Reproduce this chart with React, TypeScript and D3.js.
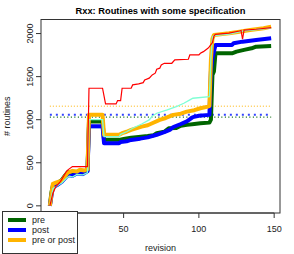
import React from 'react';
import * as d3 from 'd3';

// [revision, # routines]
const pre: [number, number][] = [
  [1, 0], [2, 150], [3, 235], [6, 262], [9, 300], [11, 350], [13, 392], [15, 372], [17, 375], [19, 392],
  [22, 385], [24, 400], [26, 412], [27, 978], [36, 978], [37, 766], [47, 766], [50, 775], [55, 790],
  [60, 800], [66, 810], [70, 820], [72, 843], [77, 860], [80, 901], [85, 905], [88, 930], [92, 940],
  [97, 950], [101, 959], [107, 966], [108, 1000], [109, 1520], [110, 1560], [111, 1771], [122, 1771],
  [125, 1790], [130, 1810], [135, 1829], [138, 1848], [148, 1856]
];

const post: [number, number][] = [
  [1, 0], [3, 217], [6, 244], [9, 282], [12, 340], [14, 360], [16, 348], [19, 379], [23, 371], [25, 398],
  [26, 400], [27, 925], [36, 925], [37, 727], [47, 727], [48, 740], [52, 750], [55, 765], [61, 780],
  [66, 795], [72, 825], [77, 855], [81, 885], [83, 915], [88, 950], [92, 980], [96, 1030], [100, 1045],
  [107, 1056], [108, 1560], [109, 1717], [111, 1868], [122, 1868], [123, 1887], [129, 1906],
  [138, 1926], [148, 1945]
];

const preOrPost: [number, number][] = [
  [1, 0], [3, 255], [5, 270], [9, 293], [11, 340], [13, 386], [16, 406], [19, 398], [21, 418], [24, 410],
  [26, 425], [27, 1056], [36, 1056], [37, 824], [47, 824], [49, 843], [52, 860], [55, 882], [62, 920],
  [66, 935], [69, 959], [74, 998], [78, 1020], [83, 1056], [88, 1070], [92, 1094], [97, 1110],
  [101, 1133], [106, 1152], [107, 1160], [108, 1700], [109, 1940], [110, 1984], [120, 2003],
  [127, 2022], [134, 2042], [143, 2061], [148, 2080]
];

const redSeries: [number, number][] = [
  [1, 0], [3, 147], [5, 224], [8, 282], [12, 398], [13, 418], [16, 456], [26, 456], [27, 1365],
  [36, 1365], [38, 1183], [45, 1183], [46, 1222], [48, 1222], [49, 1365], [55, 1365], [56, 1404],
  [60, 1415], [63, 1430], [64, 1462], [67, 1482], [69, 1520], [71, 1540], [72, 1586], [74, 1598],
  [75, 1636], [77, 1655], [82, 1655], [84, 1694], [93, 1702], [94, 1752], [100, 1752], [101, 1771],
  [103, 1790], [106, 1829], [107, 1848], [109, 1895], [110, 1972], [111, 1990], [120, 2005],
  [127, 2030], [128, 2035], [129, 1934], [130, 2040], [138, 2050], [148, 2068]
];

const aquaSeries: [number, number][] = [
  [1, 0], [3, 200], [6, 235], [9, 265], [12, 320], [14, 345], [16, 335], [19, 365], [23, 360], [26, 385],
  [27, 1000], [36, 1000], [37, 804], [47, 804], [48, 830], [52, 860], [56, 901], [62, 950], [67, 998],
  [69, 1040], [72, 1075], [79, 1114], [85, 1152], [90, 1191], [94, 1230], [96, 1249], [107, 1268],
  [108, 1720], [109, 1960], [110, 1975], [120, 1995], [130, 2030], [140, 2050], [148, 2065]
];

const skySeries: [number, number][] = [
  [1, 0], [3, 190], [6, 225], [9, 262], [12, 320], [14, 340], [16, 330], [19, 358], [23, 352], [26, 378],
  [27, 905], [36, 905], [37, 740], [47, 740], [55, 770], [61, 780], [72, 825], [81, 885], [92, 980],
  [96, 1030], [107, 1056], [108, 1540], [109, 1700], [111, 1860], [122, 1865], [129, 1900],
  [148, 1940]
];

// horizontal reference levels
const refLevels = [
  { value: 1157, color: '#FFB400', width: 1, dash: '1,2' },
  { value: 1056, color: '#3344FF', width: 2, dash: '2,4' },
  { value: 1029, color: '#006400', width: 1.2, dash: '1,2.5' }
];

const legendItems = [
  { label: 'pre', color: '#006400' },
  { label: 'post', color: '#0000FF' },
  { label: 'pre or post', color: '#FFB400' }
];

const W = 294;
const H = 254;
const margin = { top: 19.5, right: 14, bottom: 41, left: 41 };
const font = 'Liberation Sans, Arial, Helvetica, sans-serif';

export default function App() {
  const all = [pre, post, preOrPost, redSeries, aquaSeries, skySeries].flat();
  const [x0, x1] = d3.extent(all, d => d[0]) as [number, number];
  const [y0, y1] = d3.extent(all, d => d[1]) as [number, number];
  const xPad = (x1 - x0) * 0.04;
  const yPad = (y1 - y0) * 0.04;

  const x = d3.scaleLinear().domain([x0 - xPad, x1 + xPad]).range([margin.left, W - margin.right]);
  const y = d3.scaleLinear().domain([y0 - yPad, y1 + yPad]).range([H - margin.bottom, margin.top]);

  const line = d3.line<[number, number]>().x(d => x(d[0])).y(d => y(d[1]));

  const xTicks = [0, 50, 100, 150];
  const yTicks = y.ticks(5).filter(t => t >= 0 && t <= 2000);
  const bottom = H - margin.bottom;
  const cx = (margin.left + W - margin.right) / 2;
  const cy = (margin.top + bottom) / 2;

  return (
    <svg width={W} height={H} style={{ position: 'absolute', left: 0, top: 0, background: '#fff' }}
      fontFamily={font}>
      <text x={cx} y={13.5} textAnchor="middle" fontSize={9.3} fontWeight="bold">
        Rxx: Routines with some specification
      </text>

      {/* reference levels */}
      {refLevels.map(r => (
        <line key={r.value} x1={x(x0)} x2={x(x1)} y1={y(r.value)} y2={y(r.value)}
          stroke={r.color} strokeWidth={r.width} strokeDasharray={r.dash} />
      ))}

      <path d={line(skySeries) || ''} fill="none" stroke="#87CEFA" strokeWidth={1.3} />
      <path d={line(pre) || ''} fill="none" stroke="#006400" strokeWidth={4} strokeLinejoin="round" />
      <path d={line(post) || ''} fill="none" stroke="#0000FF" strokeWidth={4} strokeLinejoin="round" />
      <path d={line(preOrPost) || ''} fill="none" stroke="#FFB400" strokeWidth={4} strokeLinejoin="round" />
      <path d={line(aquaSeries) || ''} fill="none" stroke="#7FFFD4" strokeWidth={1.3} />
      <path d={line(redSeries) || ''} fill="none" stroke="#FF0000" strokeWidth={1.2} />

      {/* box */}
      <rect x={margin.left} y={margin.top} width={W - margin.left - margin.right}
        height={bottom - margin.top} fill="none" stroke="#333" strokeWidth={1} />

      {/* y axis */}
      {yTicks.map(t => (
        <g key={t}>
          <line x1={margin.left} x2={margin.left - 5} y1={y(t)} y2={y(t)} stroke="#333" />
          <text transform={`translate(32.5,${y(t)}) rotate(-90)`} textAnchor="middle" fontSize={9}
            fill="#222">{t}</text>
        </g>
      ))}
      <text transform={`translate(10,${cy}) rotate(-90)`} textAnchor="middle" fontSize={9} fill="#222">
        # routines
      </text>

      {/* x axis (the 0 label sits under the legend) */}
      <line x1={x(0)} x2={x(150)} y1={bottom} y2={bottom} stroke="#333" />
      {xTicks.map(t => (
        <g key={t}>
          <line x1={x(t)} x2={x(t)} y1={bottom} y2={bottom + 5} stroke="#333" />
          {t > 0 && <text x={x(t)} y={231.5} textAnchor="middle" fontSize={9} fill="#222">{t}</text>}
        </g>
      ))}
      <text x={cx} y={251} textAnchor="middle" fontSize={9} fill="#222">revision</text>

      {/* legend */}
      <rect x={2.5} y={211.5} width={75} height={42} fill="#fff" stroke="#333" />
      {legendItems.map((d, i) => (
        <g key={d.label}>
          <line x1={8} x2={26} y1={220 + i * 10} y2={220 + i * 10} stroke={d.color} strokeWidth={4} />
          <text x={32} y={223 + i * 10} fontSize={9} fill="#222">{d.label}</text>
        </g>
      ))}
    </svg>
  );
}
